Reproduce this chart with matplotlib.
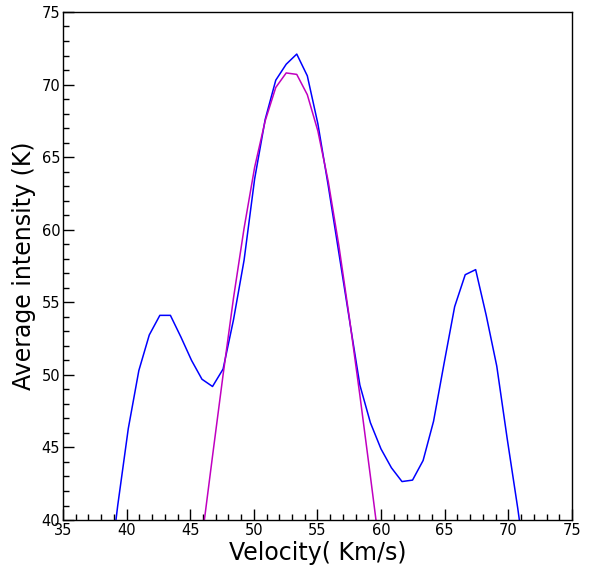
import matplotlib
matplotlib.use("Agg")
import matplotlib.pyplot as plt
from matplotlib.ticker import MultipleLocator

# Velocity channels (km/s)
velocity = [38.47, 39.30, 40.13, 40.96, 41.78, 42.61, 43.44, 44.27, 45.10, 45.92,
            46.75, 47.58, 48.40, 49.23, 50.06, 50.89, 51.72, 52.54, 53.37, 54.20,
            55.03, 55.85, 56.68, 57.51, 58.33, 59.16, 59.99, 60.81, 61.64, 62.47,
            63.30, 64.12, 64.95, 65.78, 66.61, 67.43, 68.26, 69.09, 69.91, 70.74,
            71.57]

# Observed average intensity (K)
intensity = [35.0, 41.0, 46.3, 50.3, 52.75, 54.1, 54.1, 52.6, 51.0, 49.7,
             49.2, 50.4, 53.8, 57.9, 63.5, 67.6, 70.3, 71.4, 72.1, 70.6,
             67.3, 63.0, 58.4, 53.8, 49.3, 46.7, 44.9, 43.6, 42.65, 42.75,
             44.1, 46.8, 50.8, 54.7, 56.9, 57.25, 54.1, 50.6, 45.6, 40.8,
             35.5]

# Fitted component (K), on channels from 45.92 to 59.99 km/s
fit_velocity = [45.92, 46.75, 47.58, 48.40, 49.23, 50.06, 50.89, 51.72, 52.54,
                53.37, 54.20, 55.03, 55.85, 56.68, 57.51, 58.33, 59.16, 59.99]
fit_intensity = [38.7, 44.4, 50.0, 55.3, 60.1, 64.3, 67.5, 69.8, 70.8,
                 70.7, 69.3, 66.8, 63.3, 58.9, 53.9, 48.6, 43.0, 37.3]

fig = plt.figure(figsize=(5.95, 5.65), dpi=100)
ax = fig.add_axes([0.1059, 0.0796, 0.9613 - 0.1059, 0.9788 - 0.0796])

ax.plot(velocity, intensity, color="#0000ff", lw=1.1)
ax.plot(fit_velocity, fit_intensity, color="#c000c0", lw=1.1)

ax.set_xlim(35, 75)
ax.set_ylim(40, 75)
ax.xaxis.set_major_locator(MultipleLocator(5))
ax.xaxis.set_minor_locator(MultipleLocator(1))
ax.yaxis.set_major_locator(MultipleLocator(5))
ax.yaxis.set_minor_locator(MultipleLocator(1))
ax.tick_params(which="both", direction="in", top=False, right=False,
               labelsize=10.5, pad=2)
ax.tick_params(which="major", length=8, width=1)
ax.tick_params(which="minor", length=4, width=1)

for s in ax.spines.values():
    s.set_linewidth(1.0)

ax.set_xlabel("Velocity( Km/s)", fontsize=17, labelpad=2)
ax.set_ylabel("Average intensity (K)", fontsize=17, labelpad=4)

fig.savefig("out.png", dpi=100)
